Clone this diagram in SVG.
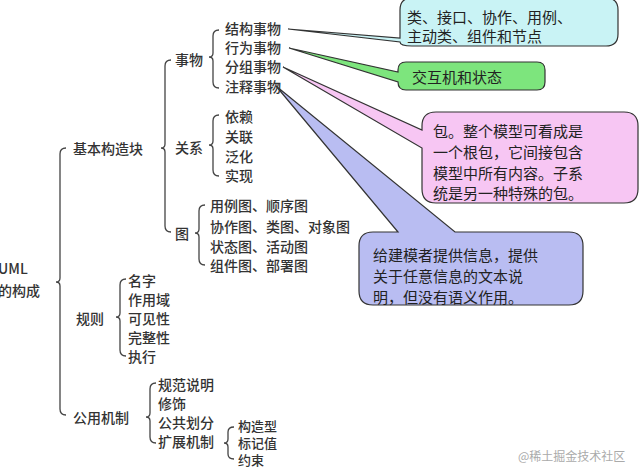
<svg xmlns="http://www.w3.org/2000/svg" width="642" height="468" viewBox="0 0 642 468">
<style>
text{font-family:"Noto Sans CJK SC","Liberation Serif",serif;font-size:14px;fill:#333;dominant-baseline:central;font-weight:500}
.b{fill:none;stroke:#444;stroke-width:1.3}
.c{font-size:15px;fill:#222;font-weight:400}
.box{stroke:#333;stroke-width:1.2}
</style>
<rect width="642" height="468" fill="#fff"/>
<g id="connectors">
<path class="b" d="M66 148 Q60 148 60 154 V278 Q60 282 56 282 Q60 282 60 286 V409 Q60 415 66 415"/>
<path class="b" d="M171 60 Q165 60 165 66 V144 Q165 148 161 148 Q165 148 165 152 V226 Q165 232 171 232"/>
<path class="b" d="M219 30 Q213 30 213 36 V53 Q213 57 209 57 Q213 57 213 61 V82 Q213 88 219 88"/>
<path class="b" d="M219 115 Q213 115 213 121 V141 Q213 145 209 145 Q213 145 213 149 V170 Q213 176 219 176"/>
<path class="b" d="M205 205 Q199 205 199 211 V229 Q199 233 195 233 Q199 233 199 237 V259 Q199 265 205 265"/>
<path class="b" d="M126 279 Q120 279 120 285 V313 Q120 317 116 317 Q120 317 120 321 V350 Q120 356 126 356"/>
<path class="b" d="M156 383 Q150 383 150 389 V413 Q150 417 146 417 Q150 417 150 421 V437 Q150 443 156 443"/>
<path class="b" d="M234 427 Q228 427 228 432 V439 Q228 443 224 443 Q228 443 228 447 V454 Q228 459 234 459"/>
</g>
<g id="callout-structure">
<path class="box" fill="#c9f3f5" d="M288 29 L400 38 L400 10 Q400 -2 412 -2 L606 -2 Q618 -2 618 10 L618 34 Q618 46 606 46 L412 46 Q400 46 400 42 Z"/>
<text class="c" x="407" y="16">类、接口、协作、用例、</text>
<text class="c" x="407" y="35">主动类、组件和节点</text>
</g>
<g id="callout-behavior">
<path class="box" fill="#7de57d" d="M289 48 L398 72 L398 70 Q398 62 406 62 L537 62 Q545 62 545 70 L545 82 Q545 90 537 90 L406 90 Q398 90 398 82 Z"/>
<text class="c" x="412" y="76">交互机和状态</text>
</g>
<g id="callout-group">
<path class="box" fill="#f7c6f3" d="M283 67 L422 130 L422 126 Q422 112 436 112 L624 112 Q638 112 638 126 L638 189 Q638 203 624 203 L436 203 Q422 203 422 189 L422 148 Z"/>
<text class="c" x="433" y="130">包。整个模型可看成是</text>
<text class="c" x="433" y="151">一个根包，它间接包含</text>
<text class="c" x="433" y="172">模型中所有内容。子系</text>
<text class="c" x="433" y="192">统是另一种特殊的包。</text>
</g>
<g id="callout-note">
<path class="box" fill="#b9bdf2" d="M276 86 L398 232 L373 232 Q359 232 359 246 L359 291 Q359 305 373 305 L569 305 Q583 305 583 291 L583 246 Q583 232 569 232 L455 232 Z"/>
<text class="c" x="373" y="254">给建模者提供信息，提供</text>
<text class="c" x="373" y="275">关于任意信息的文本说</text>
<text class="c" x="373" y="296">明，但没有语义作用。</text>
</g>
<g id="root"><text x="-2" y="268">UML</text><text x="-2" y="290">的构成</text></g>
<g id="n-basic"><text x="73" y="148">基本构造块</text></g>
<g id="n-things"><text x="175" y="59">事物</text>
<text x="225" y="28">结构事物</text><text x="225" y="47">行为事物</text><text x="225" y="66">分组事物</text><text x="225" y="86">注释事物</text></g>
<g id="n-rel"><text x="175" y="147">关系</text>
<text x="225" y="116">依赖</text><text x="225" y="136">关联</text><text x="225" y="156">泛化</text><text x="225" y="175">实现</text></g>
<g id="n-diag"><text x="175" y="233">图</text>
<text x="210" y="205">用例图、顺序图</text><text x="210" y="226">协作图、类图、对象图</text><text x="210" y="246">状态图、活动图</text><text x="210" y="265">组件图、部署图</text></g>
<g id="n-rules"><text x="76" y="318">规则</text>
<text x="128" y="280">名字</text><text x="128" y="299">作用域</text><text x="128" y="318">可见性</text><text x="128" y="337">完整性</text><text x="128" y="356">执行</text></g>
<g id="n-common"><text x="73" y="417">公用机制</text>
<text x="158" y="384">规范说明</text><text x="158" y="403">修饰</text><text x="158" y="422">公共划分</text><text x="158" y="441">扩展机制</text>
<text x="238" y="425" style="font-size:13px">构造型</text><text x="238" y="442" style="font-size:13px">标记值</text><text x="238" y="459" style="font-size:13px">约束</text></g>
<text x="518" y="455" style="font-size:12px;fill:#aaa;font-weight:400">@稀土掘金技术社区</text>
</svg>
